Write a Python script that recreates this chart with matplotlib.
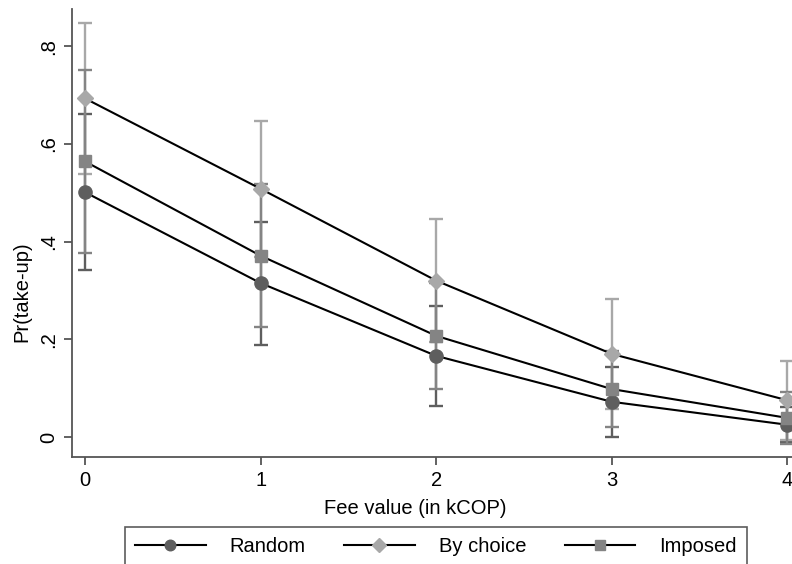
import matplotlib
matplotlib.use("Agg")
import matplotlib.pyplot as plt
from matplotlib.lines import Line2D

plt.rcParams['font.family'] = ['Liberation Sans', 'DejaVu Sans']

# ==== data ====
fee = [0, 1, 2, 3, 4]

random_p = [0.501, 0.315, 0.166, 0.072, 0.025]
random_ci = [0.160, 0.126, 0.102, 0.072, 0.036]

choice_p = [0.693, 0.508, 0.320, 0.170, 0.075]
choice_ci = [0.154, 0.139, 0.126, 0.112, 0.081]

imposed_p = [0.564, 0.371, 0.207, 0.098, 0.039]
imposed_ci = [0.187, 0.146, 0.109, 0.078, 0.053]

labels = ["Random", "By choice", "Imposed"]
yticks = [0, 0.2, 0.4, 0.6, 0.8]
yticklabels = ["0", ".2", ".4", ".6", ".8"]

c_random = "#5e5e5e"
c_choice = "#a8a8a8"
c_imposed = "#848484"

W, H = 792, 564
fig = plt.figure(figsize=(W / 100, H / 100), dpi=100)
# axes runs past the right edge like in the reference
ax = fig.add_axes([72 / W, 1 - 457 / H, 728.4 / W, 448 / H])

# error bars (imposed drawn last so it sits on top)
for p, ci, col in [(random_p, random_ci, c_random),
                   (choice_p, choice_ci, c_choice),
                   (imposed_p, imposed_ci, c_imposed)]:
    ax.errorbar(fee, p, yerr=ci, fmt="none", ecolor=col, elinewidth=1.7,
                capsize=5, capthick=1.7, zorder=1)

# black connecting lines + markers
series = [(random_p, c_random, "o", 9.5),
          (choice_p, c_choice, "D", 8.5),
          (imposed_p, c_imposed, "s", 9.0)]
for p, col, mk, ms in series:
    ax.plot(fee, p, color="black", lw=1.5, zorder=2)
    ax.plot(fee, p, ls="none", marker=mk, ms=ms, color=col, mec=col, zorder=3)

ax.set_xlim(-0.074, 4.074)
ax.set_ylim(-0.041, 0.876)
ax.set_xticks(fee)
ax.set_yticks(yticks)
ax.set_yticklabels(yticklabels, rotation=90, va="center")

for s in ["top", "right"]:
    ax.spines[s].set_visible(False)
for s in ["left", "bottom"]:
    ax.spines[s].set_color("#555555")
    ax.spines[s].set_linewidth(1.3)
ax.tick_params(direction="out", length=6, width=1.3, color="#555555",
               labelsize=14.5, pad=4)

fig.text(22 / W, 1 - 292 / H, "Pr(take-up)", rotation=90, ha="center",
         va="center", fontsize=14.5)
fig.text(415 / W, 1 - 509 / H, "Fee value (in kCOP)", ha="center",
         va="center", fontsize=14.5)

handles = [Line2D([], [], color="black", lw=1.5, marker=mk, ms=ms,
                  mfc=col, mec=col)
           for p, col, mk, ms in series]
leg = fig.legend(handles, labels, ncol=3, loc="upper center",
                 bbox_to_anchor=(436 / W, 1 - 517 / H), fontsize=14.5,
                 frameon=True, fancybox=False, handlelength=3.5,
                 handletextpad=1.2, columnspacing=1.9, borderpad=0.5,
                 markerscale=0.8)
leg.get_frame().set_edgecolor("#333333")
leg.get_frame().set_linewidth(1.2)

fig.savefig("out.png", dpi=100)
